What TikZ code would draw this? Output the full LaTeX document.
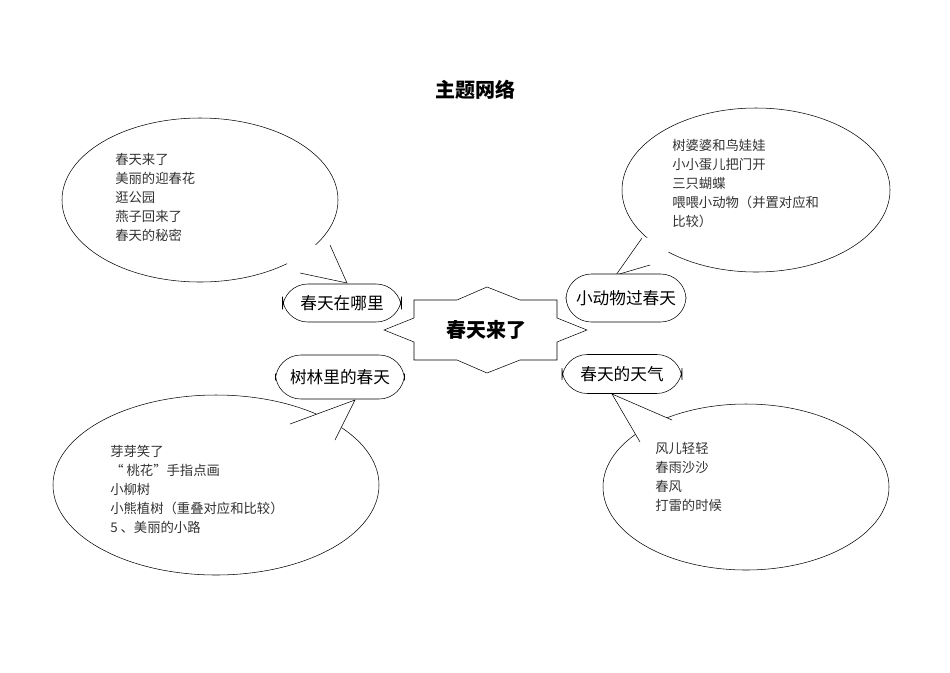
\documentclass[tikz,border=0pt]{standalone}
\usepackage{fontspec}
\usetikzlibrary{calc}
\newfontfamily\cjk{Noto Sans CJK SC}
\begin{document}
\begin{tikzpicture}[x=0.75pt,y=-0.75pt,
  lbl/.style={draw,rounded corners=19pt,thin,fill=white,font=\cjk\fontsize{12.5pt}{14pt}\selectfont,inner sep=0pt},
  txt/.style={anchor=north west,align=left,inner sep=0pt,font=\cjk\fontsize{10pt}{14.25pt}\selectfont,text=black!80},
  bub/.style={draw,thin,fill=white}]
\useasboundingbox (0,0) rectangle (950,672);
\node[font=\cjk\bfseries\fontsize{15pt}{18pt}\selectfont] (title) at (475,90) {主题网络};
% callouts
\foreach \cx/\cy/\rx/\ry/\ax/\ay/\bx/\by/\tx/\ty in {
  200/200/138/82/300/273/330/245/347/283,
  756/190/134/82/650/265/642/238/616/275,
  216/485/163/90/290/424/335/440/355/400,
  746/487/143/83/640/442/672/420/612/394}{
  \draw[bub] (\cx,\cy) ellipse [x radius=\rx, y radius=\ry];
  \fill[white] (\ax,\ay) -- (\tx,\ty) -- (\bx,\by) -- ($(\cx,\cy)!0.6!(\ax,\ay)$) -- cycle;
  \draw[thin] (\ax,\ay) -- (\tx,\ty) -- (\bx,\by);
}
\node[txt] (t1) at (115,153) {春天来了\\美丽的迎春花\\逛公园\\燕子回来了\\春天的秘密};
\node[txt] (t2) at (672,139) {树婆婆和鸟娃娃\\小小蛋儿把门开\\三只蝴蝶\\喂喂小动物（并置对应和\\比较）};
\node[txt] (t3) at (110,445) {芽芽笑了\\“ 桃花”手指点画\\小柳树\\小熊植树（重叠对应和比较）\\5 、美丽的小路};
\node[txt] (t4) at (655,442) {风儿轻轻\\春雨沙沙\\春风\\打雷的时候};
% labels
\node[lbl,minimum width=119pt*0.75,minimum height=38pt*0.75] (a) at (342,303) {春天在哪里};
\node[lbl,minimum width=120pt*0.75,minimum height=48pt*0.75] (b) at (626,298) {小动物过春天};
\node[lbl,minimum width=129pt*0.75,minimum height=44pt*0.75] (c) at (340,377) {树林里的春天};
\node[lbl,minimum width=120pt*0.75,minimum height=39pt*0.75] (d) at (622,374) {春天的天气};
% center star
\draw[thin,fill=white] (414,300) -- (457,300) -- (487,287) -- (520,300) -- (557,300) -- (557,318) -- (587,330) -- (557,342) -- (557,360) -- (520,360) -- (487,373) -- (457,360) -- (414,360) -- (414,342) -- (384,330) -- (414,318) -- cycle;
\node[font=\cjk\bfseries\fontsize{15pt}{18pt}\selectfont] (m) at (486,330) {春天来了};
\end{tikzpicture}
\end{document}
